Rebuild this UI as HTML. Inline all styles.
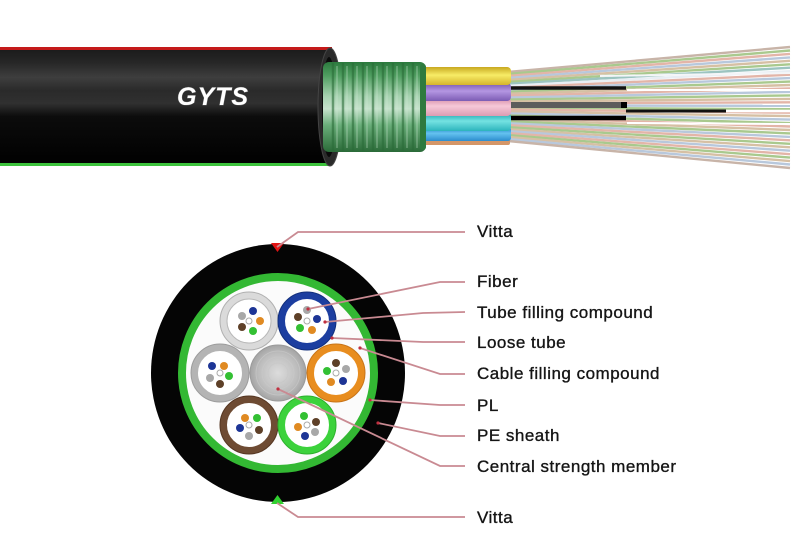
<!DOCTYPE html>
<html>
<head>
<meta charset="utf-8">
<style>
  html,body{margin:0;padding:0;background:#fff;}
  svg{display:block;}
  .lbl{font-family:"Liberation Sans",Arial,sans-serif;font-size:17px;fill:#151515;stroke:#151515;stroke-width:0.35px;letter-spacing:0.5px;}
</style>
</head>
<body>
<svg width="800" height="543" viewBox="0 0 800 543" xmlns="http://www.w3.org/2000/svg">
  <defs>
    <linearGradient id="jacket" x1="0" y1="0" x2="0" y2="1">
      <stop offset="0" stop-color="#1a1a1a"/>
      <stop offset="0.12" stop-color="#262626"/>
      <stop offset="0.25" stop-color="#3e3e3e"/>
      <stop offset="0.36" stop-color="#2a2a2a"/>
      <stop offset="0.47" stop-color="#303030"/>
      <stop offset="0.58" stop-color="#0c0c0c"/>
      <stop offset="1" stop-color="#000"/>
    </linearGradient>
    <linearGradient id="armor" x1="0" y1="0" x2="0" y2="1">
      <stop offset="0" stop-color="#2c7a3e"/>
      <stop offset="0.15" stop-color="#4f9e60"/>
      <stop offset="0.38" stop-color="#a6d2b0"/>
      <stop offset="0.52" stop-color="#c6e2cc"/>
      <stop offset="0.7" stop-color="#6aae7a"/>
      <stop offset="1" stop-color="#2a6a38"/>
    </linearGradient>
    <linearGradient id="tY" x1="0" y1="0" x2="0" y2="1">
      <stop offset="0" stop-color="#c8a820"/><stop offset="0.45" stop-color="#f7ec66"/><stop offset="1" stop-color="#d4b42c"/>
    </linearGradient>
    <linearGradient id="tP" x1="0" y1="0" x2="0" y2="1">
      <stop offset="0" stop-color="#7656ae"/><stop offset="0.45" stop-color="#b496e2"/><stop offset="1" stop-color="#7c5cb4"/>
    </linearGradient>
    <linearGradient id="tK" x1="0" y1="0" x2="0" y2="1">
      <stop offset="0" stop-color="#d48ca6"/><stop offset="0.45" stop-color="#f6c8d8"/><stop offset="1" stop-color="#dc9cb2"/>
    </linearGradient>
    <linearGradient id="tC" x1="0" y1="0" x2="0" y2="1">
      <stop offset="0" stop-color="#1ea4ae"/><stop offset="0.45" stop-color="#74e2e2"/><stop offset="1" stop-color="#2cb4bc"/>
    </linearGradient>
    <linearGradient id="tB" x1="0" y1="0" x2="0" y2="1">
      <stop offset="0" stop-color="#1c7cc4"/><stop offset="0.45" stop-color="#64c2f0"/><stop offset="1" stop-color="#2c8cce"/>
    </linearGradient>
    <radialGradient id="csm" cx="0.5" cy="0.5" r="0.5">
      <stop offset="0" stop-color="#dcdcdc"/>
      <stop offset="0.7" stop-color="#bdbdbd"/>
      <stop offset="1" stop-color="#a4a4a4"/>
    </radialGradient>
  </defs>

  <!-- ===== Top cable ===== -->
  <g stroke-width="2.4" fill="none">
    <line x1="508" y1="72.0" x2="790" y2="47.0" stroke="#c8b4a8"/>
    <line x1="508" y1="74.0" x2="790" y2="50.5" stroke="#a9c98e"/>
    <line x1="508" y1="75.9" x2="790" y2="53.9" stroke="#e3b5a8"/>
    <line x1="508" y1="77.9" x2="790" y2="57.4" stroke="#b8c8dc"/>
    <line x1="508" y1="79.9" x2="790" y2="60.8" stroke="#d6c0a4"/>
    <line x1="508" y1="81.9" x2="790" y2="64.3" stroke="#a9c98e"/>
    <line x1="508" y1="83.8" x2="790" y2="67.7" stroke="#9cc4c0"/>
    <line x1="508" y1="85.8" x2="790" y2="71.2" stroke="#e8eef4"/>
    <line x1="508" y1="87.8" x2="790" y2="74.7" stroke="#e3b5a8"/>
    <line x1="508" y1="89.7" x2="790" y2="78.1" stroke="#b8c8dc"/>
    <line x1="508" y1="91.7" x2="790" y2="81.6" stroke="#a9c98e"/>
    <line x1="508" y1="93.7" x2="790" y2="85.0" stroke="#d6c0a4"/>
    <line x1="508" y1="95.7" x2="790" y2="88.5" stroke="#e3b5a8"/>
    <line x1="508" y1="97.6" x2="790" y2="91.9" stroke="#b8c8dc"/>
    <line x1="508" y1="99.6" x2="790" y2="95.4" stroke="#a9c98e"/>
    <line x1="508" y1="101.6" x2="790" y2="98.9" stroke="#d6c0a4"/>
    <line x1="508" y1="103.5" x2="790" y2="102.3" stroke="#e3b5a8"/>
    <line x1="508" y1="105.5" x2="790" y2="105.8" stroke="#b8c8dc"/>
    <line x1="508" y1="107.5" x2="790" y2="109.2" stroke="#a9c98e"/>
    <line x1="508" y1="109.4" x2="790" y2="112.7" stroke="#e3b5a8"/>
    <line x1="508" y1="111.4" x2="790" y2="116.1" stroke="#d6c0a4"/>
    <line x1="508" y1="113.4" x2="790" y2="119.6" stroke="#b8c8dc"/>
    <line x1="508" y1="115.4" x2="790" y2="123.1" stroke="#a9c98e"/>
    <line x1="508" y1="117.3" x2="790" y2="126.5" stroke="#e3b5a8"/>
    <line x1="508" y1="119.3" x2="790" y2="130.0" stroke="#d6c0a4"/>
    <line x1="508" y1="121.3" x2="790" y2="133.4" stroke="#a9c98e"/>
    <line x1="508" y1="123.2" x2="790" y2="136.9" stroke="#b8c8dc"/>
    <line x1="508" y1="125.2" x2="790" y2="140.3" stroke="#e3b5a8"/>
    <line x1="508" y1="127.2" x2="790" y2="143.8" stroke="#a9c98e"/>
    <line x1="508" y1="129.2" x2="790" y2="147.3" stroke="#d6c0a4"/>
    <line x1="508" y1="131.1" x2="790" y2="150.7" stroke="#b8c8dc"/>
    <line x1="508" y1="133.1" x2="790" y2="154.2" stroke="#e3b5a8"/>
    <line x1="508" y1="135.1" x2="790" y2="157.6" stroke="#a9c98e"/>
    <line x1="508" y1="137.0" x2="790" y2="161.1" stroke="#d6c0a4"/>
    <line x1="508" y1="139.0" x2="790" y2="164.5" stroke="#b8c8dc"/>
    <line x1="508" y1="141.0" x2="790" y2="168.0" stroke="#c8b4a8"/>
  </g>
  <line x1="627" y1="90" x2="790" y2="90" stroke="#ffffff" stroke-width="2"/>
  <line x1="725" y1="111" x2="790" y2="111" stroke="#ffffff" stroke-width="2.5"/>
  <line x1="627" y1="123" x2="790" y2="124" stroke="#ffffff" stroke-width="2"/>
  <line x1="600" y1="76" x2="790" y2="73" stroke="#f4f6f8" stroke-width="2"/>
  <line x1="510" y1="88" x2="626" y2="88" stroke="#111" stroke-width="3.5"/>
  <line x1="510" y1="105" x2="622" y2="105" stroke="#5c5c5c" stroke-width="6"/>
  <line x1="621" y1="105" x2="627" y2="105" stroke="#000" stroke-width="6"/>
  <line x1="510" y1="118" x2="626" y2="118" stroke="#000" stroke-width="4.5"/>
  <line x1="626" y1="111" x2="726" y2="111" stroke="#111" stroke-width="3"/>

  <rect x="420" y="139" width="90" height="6" rx="2" fill="#d49668"/>
  <rect x="420" y="127" width="91" height="14" rx="3" fill="url(#tB)"/>
  <rect x="420" y="113" width="91" height="18" rx="4" fill="url(#tC)"/>
  <rect x="420" y="98" width="91" height="18" rx="4" fill="url(#tK)"/>
  <rect x="420" y="83" width="91" height="18" rx="4" fill="url(#tP)"/>
  <rect x="420" y="67" width="91" height="18" rx="4" fill="url(#tY)"/>

  <rect x="0" y="48" width="332" height="118" fill="url(#jacket)"/>
  <rect x="0" y="47" width="332" height="3" fill="#c41a1a"/>
  <rect x="0" y="163" width="332" height="3" fill="#3cc23c"/>
  <ellipse cx="330" cy="107" rx="12" ry="59" fill="#2a2a2a" stroke="#444" stroke-width="1"/>
  <ellipse cx="329" cy="107" rx="7" ry="50" fill="#0a0a0a"/>
  <text x="177" y="105" font-family="Liberation Sans, Arial, sans-serif" font-size="25" font-weight="bold" font-style="italic" fill="#ffffff" stroke="#666" stroke-width="0.8" paint-order="stroke" letter-spacing="1">GYTS</text>

  <rect x="323" y="62" width="103" height="90" rx="6" fill="url(#armor)"/>
  <g stroke="#2a6c38" stroke-width="2.5" opacity="0.6">
    <line x1="333" y1="63" x2="333" y2="151"/>
    <line x1="343" y1="63" x2="343" y2="151"/>
    <line x1="353" y1="63" x2="353" y2="151"/>
    <line x1="363" y1="63" x2="363" y2="151"/>
    <line x1="373" y1="63" x2="373" y2="151"/>
    <line x1="383" y1="63" x2="383" y2="151"/>
    <line x1="393" y1="63" x2="393" y2="151"/>
    <line x1="403" y1="63" x2="403" y2="151"/>
    <line x1="413" y1="63" x2="413" y2="151"/>
  </g>
  <g stroke="#cfe8d4" stroke-width="1.5" opacity="0.35">
    <line x1="337" y1="66" x2="337" y2="148"/>
    <line x1="347" y1="66" x2="347" y2="148"/>
    <line x1="357" y1="66" x2="357" y2="148"/>
    <line x1="367" y1="66" x2="367" y2="148"/>
    <line x1="377" y1="66" x2="377" y2="148"/>
    <line x1="387" y1="66" x2="387" y2="148"/>
    <line x1="397" y1="66" x2="397" y2="148"/>
    <line x1="407" y1="66" x2="407" y2="148"/>
    <line x1="417" y1="66" x2="417" y2="148"/>
  </g>
  <rect x="420" y="64" width="6" height="86" rx="3" fill="#2e7a3e"/>

  <!-- ===== Cross section ===== -->
  <ellipse cx="278" cy="373" rx="127" ry="129" fill="#050505"/>
  <circle cx="278" cy="373" r="96" fill="#fbfbfb" stroke="#33b833" stroke-width="8"/>

  <circle cx="278" cy="373" r="28" fill="url(#csm)" stroke="#9a9a9a" stroke-width="1"/>
  <g fill="none" stroke="#c8c8c8" stroke-width="0.8" opacity="0.8">
    <circle cx="278" cy="373" r="22"/><circle cx="278" cy="373" r="16"/><circle cx="278" cy="373" r="10"/>
  </g>

  <g transform="translate(249,321)">
    <circle r="25.5" fill="#fff" stroke="#dadada" stroke-width="7"/>
    <circle r="29" fill="none" stroke="#b0b0b0" stroke-width="1"/>
    <circle r="22" fill="none" stroke="#b8b8b8" stroke-width="1"/>
    <circle cx="-7" cy="-5" r="4" fill="#a8a8a8"/>
    <circle cx="4" cy="-10" r="4" fill="#1d3596"/>
    <circle cx="11" cy="0" r="4" fill="#e08a22"/>
    <circle cx="4" cy="10" r="4" fill="#33c033"/>
    <circle cx="-7" cy="6" r="4" fill="#5e4028"/>
    <circle r="3" fill="#fff" stroke="#aaa" stroke-width="1"/>
  </g>
  <g transform="translate(307,321)">
    <circle r="25.5" fill="#fff" stroke="#1c3ea0" stroke-width="7"/>
    <circle r="29" fill="none" stroke="#122f7c" stroke-width="1"/>
    <circle cx="0" cy="-11" r="4" fill="#a8a8a8"/>
    <circle cx="10" cy="-2" r="4" fill="#1d3596"/>
    <circle cx="5" cy="9" r="4" fill="#e08a22"/>
    <circle cx="-7" cy="7" r="4" fill="#33c033"/>
    <circle cx="-9" cy="-4" r="4" fill="#5e4028"/>
    <circle r="3" fill="#fff" stroke="#aaa" stroke-width="1"/>
  </g>
  <g transform="translate(220,373)">
    <circle r="25.5" fill="#fff" stroke="#b4b4b4" stroke-width="7"/>
    <circle r="29" fill="none" stroke="#9c9c9c" stroke-width="1"/>
    <circle cx="-8" cy="-7" r="4" fill="#1d3596"/>
    <circle cx="4" cy="-7" r="4" fill="#e08a22"/>
    <circle cx="9" cy="3" r="4" fill="#33c033"/>
    <circle cx="0" cy="11" r="4" fill="#5e4028"/>
    <circle cx="-10" cy="5" r="4" fill="#a8a8a8"/>
    <circle r="3" fill="#fff" stroke="#aaa" stroke-width="1"/>
  </g>
  <g transform="translate(336,373)">
    <circle r="25.5" fill="#fff" stroke="#e88d1f" stroke-width="7"/>
    <circle r="29" fill="none" stroke="#c87418" stroke-width="1"/>
    <circle cx="0" cy="-10" r="4" fill="#5e4028"/>
    <circle cx="10" cy="-4" r="4" fill="#a8a8a8"/>
    <circle cx="7" cy="8" r="4" fill="#1d3596"/>
    <circle cx="-5" cy="9" r="4" fill="#e08a22"/>
    <circle cx="-9" cy="-2" r="4" fill="#33c033"/>
    <circle r="3" fill="#fff" stroke="#aaa" stroke-width="1"/>
  </g>
  <g transform="translate(249,425)">
    <circle r="25.5" fill="#fff" stroke="#6e4b33" stroke-width="7"/>
    <circle r="29" fill="none" stroke="#553622" stroke-width="1"/>
    <circle cx="-4" cy="-7" r="4" fill="#e08a22"/>
    <circle cx="8" cy="-7" r="4" fill="#33c033"/>
    <circle cx="10" cy="5" r="4" fill="#5e4028"/>
    <circle cx="0" cy="11" r="4" fill="#a8a8a8"/>
    <circle cx="-9" cy="3" r="4" fill="#1d3596"/>
    <circle r="3" fill="#fff" stroke="#aaa" stroke-width="1"/>
  </g>
  <g transform="translate(307,425)">
    <circle r="25.5" fill="#fff" stroke="#3cd23c" stroke-width="7"/>
    <circle r="29" fill="none" stroke="#2cb02c" stroke-width="1"/>
    <circle cx="-3" cy="-9" r="4" fill="#33c033"/>
    <circle cx="9" cy="-3" r="4" fill="#5e4028"/>
    <circle cx="8" cy="7" r="4" fill="#a8a8a8"/>
    <circle cx="-2" cy="11" r="4" fill="#1d3596"/>
    <circle cx="-9" cy="2" r="4" fill="#e08a22"/>
    <circle r="3" fill="#fff" stroke="#aaa" stroke-width="1"/>
  </g>

  <polygon points="271,243 284,243 277.5,252" fill="#e01414"/>
  <polygon points="271,504 284,504 277.5,495" fill="#30d030"/>

  <g fill="none" stroke="#c98a92" stroke-width="1.8">
    <polyline points="277,247 298,232 465,232"/>
    <polyline points="308,309 440,282 465,282"/>
    <polyline points="325,322 423,313 465,312"/>
    <polyline points="332,338 423,342 465,342"/>
    <polyline points="360,348 440,374 465,374"/>
    <polyline points="370,400 440,405 465,405"/>
    <polyline points="378,423 440,436 465,436"/>
    <polyline points="278,389 440,466 465,466"/>
    <polyline points="277,503 298,517 465,517"/>
  </g>
  <g fill="#c03040">
    <circle cx="308" cy="309" r="1.6"/>
    <circle cx="325" cy="322" r="1.6"/>
    <circle cx="332" cy="338" r="1.6"/>
    <circle cx="360" cy="348" r="1.6"/>
    <circle cx="370" cy="400" r="1.6"/>
    <circle cx="378" cy="423" r="1.6"/>
    <circle cx="278" cy="389" r="1.6"/>
  </g>

  <text class="lbl" x="477" y="237">Vitta</text>
  <text class="lbl" x="477" y="287">Fiber</text>
  <text class="lbl" x="477" y="318">Tube filling compound</text>
  <text class="lbl" x="477" y="348">Loose tube</text>
  <text class="lbl" x="477" y="379">Cable filling compound</text>
  <text class="lbl" x="477" y="411">PL</text>
  <text class="lbl" x="477" y="441">PE sheath</text>
  <text class="lbl" x="477" y="472">Central strength member</text>
  <text class="lbl" x="477" y="523">Vitta</text>
</svg>
</body>
</html>
